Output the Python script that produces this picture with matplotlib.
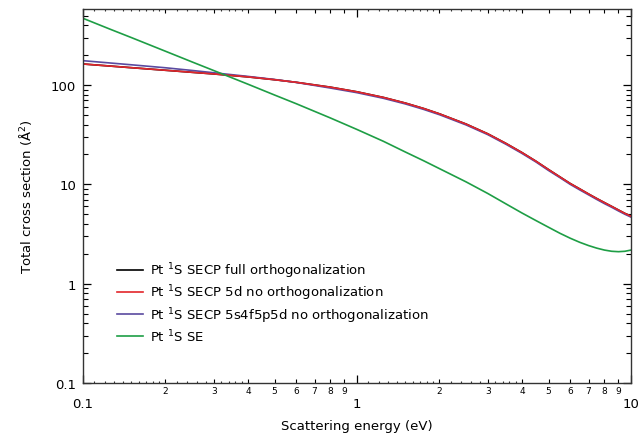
import numpy as np
import matplotlib
matplotlib.use("Agg")
import matplotlib.pyplot as plt
from matplotlib.lines import Line2D
from matplotlib.ticker import FixedLocator, FixedFormatter, NullFormatter, LogLocator
import matplotlib.transforms as mtransforms

plt.rcParams['font.family'] = ['DejaVu Sans']
plt.rcParams['mathtext.fontset'] = 'dejavusans'

# Scattering energy (eV)
energy = [0.1, 0.125, 0.15, 0.2, 0.25, 0.3, 0.4, 0.5, 0.6, 0.8,
          1.0, 1.25, 1.5, 1.75, 2.0, 2.5, 3.0, 3.5, 4.0, 4.5,
          5.0, 5.5, 6.0, 6.5, 7.0, 7.5, 8.0, 8.5, 9.0, 9.5, 10.0]

# Total cross sections (Å^2)
secp_full = [163, 155.5, 149.6, 140.9, 134.4, 129.4, 120.8, 113.2, 106.6, 95.2,
             85.5, 75.0, 65.9, 58.1, 51.3, 40.5, 32.3, 25.8, 20.9, 17.1,
             14.1, 11.9, 10.2, 9.0, 8.0, 7.2, 6.55, 6.0, 5.52, 5.1, 4.8]
secp_5d = [163, 155.5, 149.6, 140.9, 134.4, 129.4, 120.8, 113.2, 106.6, 95.2,
           85.5, 75.0, 65.9, 58.1, 51.3, 40.5, 32.3, 25.8, 20.9, 17.1,
           14.1, 11.9, 10.2, 9.0, 8.0, 7.2, 6.55, 6.0, 5.52, 5.1, 4.78]
secp_5s4f5p5d = [176, 167, 160, 149.3, 140.3, 133.0, 122.2, 113.8, 106.3, 93.3,
                 83.8, 73.5, 64.6, 56.9, 50.3, 39.7, 31.7, 25.3, 20.5, 16.8,
                 13.8, 11.7, 10.0, 8.8, 7.85, 7.05, 6.4, 5.88, 5.4, 5.0, 4.68]
se = [470, 367, 301, 219, 171, 140, 102, 79.4, 64.9, 46.6,
      35.7, 27.1, 21.2, 17.3, 14.4, 10.6, 8.1, 6.35, 5.15, 4.32,
      3.70, 3.22, 2.87, 2.61, 2.42, 2.28, 2.18, 2.12, 2.10, 2.12, 2.18]

labels = [r"Pt $^{1}$S SECP full orthogonalization",
          r"Pt $^{1}$S SECP 5d no orthogonalization",
          r"Pt $^{1}$S SECP 5s4f5p5d no orthogonalization",
          r"Pt $^{1}$S SE"]
colors = ["#000000", "#e3262b", "#5a4aa0", "#1e9e45"]

x_major = [0.1, 1, 10]
x_minor = [0.2, 0.3, 0.4, 0.5, 0.6, 0.7, 0.8, 0.9,
           2, 3, 4, 5, 6, 7, 8, 9]
x_minor_labels = ["2", "3", "4", "5", "6", "7", "8", "9"] * 2
x_subminor = ([0.11, 0.12, 0.13, 0.14, 0.15, 0.16, 0.17, 0.18, 0.19,
               0.22, 0.24, 0.26, 0.28, 0.32, 0.34, 0.36, 0.38] +
              [1.1, 1.2, 1.3, 1.4, 1.5, 1.6, 1.7, 1.8, 1.9,
               2.2, 2.4, 2.6, 2.8, 3.2, 3.4, 3.6, 3.8])

fig = plt.figure(figsize=(6.39, 4.35), dpi=100)
ax = fig.add_axes([83 / 639, 51 / 435, 548 / 639, 374.5 / 435])

lw = 1.2
ax.plot(energy, secp_full, color=colors[0], lw=lw, solid_joinstyle='round')
ax.plot(energy, secp_5s4f5p5d, color=colors[2], lw=lw, solid_joinstyle='round')
ax.plot(energy, secp_5d, color=colors[1], lw=lw, solid_joinstyle='round')
ax.plot(energy, se, color=colors[3], lw=lw, solid_joinstyle='round')

ax.set_xscale('log')
ax.set_yscale('log')
ax.set_xlim(0.1, 10)
ax.set_ylim(0.1, 590)

# x axis: major labels set lower, small minor digit labels under the axis
ax.xaxis.set_major_locator(FixedLocator(x_major))
ax.xaxis.set_major_formatter(FixedFormatter(["0.1", "1", "10"]))
ax.xaxis.set_minor_locator(FixedLocator(x_minor))
ax.xaxis.set_minor_formatter(FixedFormatter(x_minor_labels))
ax.tick_params(axis='x', which='major', direction='in', length=6, width=0.9,
               top=True, labelsize=9.5, pad=10)
ax.tick_params(axis='x', which='minor', direction='in', length=3.2, width=0.8,
               top=True, labelsize=6.5, pad=2.5)

ax.yaxis.set_major_locator(FixedLocator([0.1, 1, 10, 100]))
ax.yaxis.set_major_formatter(FixedFormatter(["0.1", "1", "10", "100"]))
ax.yaxis.set_minor_locator(LogLocator(base=10, subs=np.arange(2, 10)))
ax.yaxis.set_minor_formatter(NullFormatter())
ax.tick_params(axis='y', which='major', direction='in', length=6, width=0.9,
               right=True, labelsize=9.5, pad=5)
ax.tick_params(axis='y', which='minor', direction='in', length=3.6, width=0.8,
               right=True)

# short sub-minor ticks along the top and bottom edges
trans = mtransforms.blended_transform_factory(ax.transData, ax.transAxes)
tick_frac = 2.2 / 374.5
ax.vlines(x_subminor, 0, tick_frac, transform=trans, color='#333333', lw=0.8,
          clip_on=False)
ax.vlines(x_subminor, 1 - tick_frac, 1, transform=trans, color='#333333',
          lw=0.8, clip_on=False)

for s in ax.spines.values():
    s.set_linewidth(1.0)
    s.set_color('#333333')

ax.set_xlabel("Scattering energy (eV)", fontsize=9.5, labelpad=6.5)
ax.set_ylabel("Total cross section (Å$^{2}$)", fontsize=9.5, labelpad=12)

handles = [Line2D([], [], color=c, lw=lw) for c in colors]
ax.legend(handles, labels, loc='upper left', bbox_to_anchor=(0.052, 0.341),
          frameon=False, fontsize=9.5, handlelength=1.97, handletextpad=0.55,
          labelspacing=0.2, borderaxespad=0)

fig.savefig("out.png", dpi=100)
